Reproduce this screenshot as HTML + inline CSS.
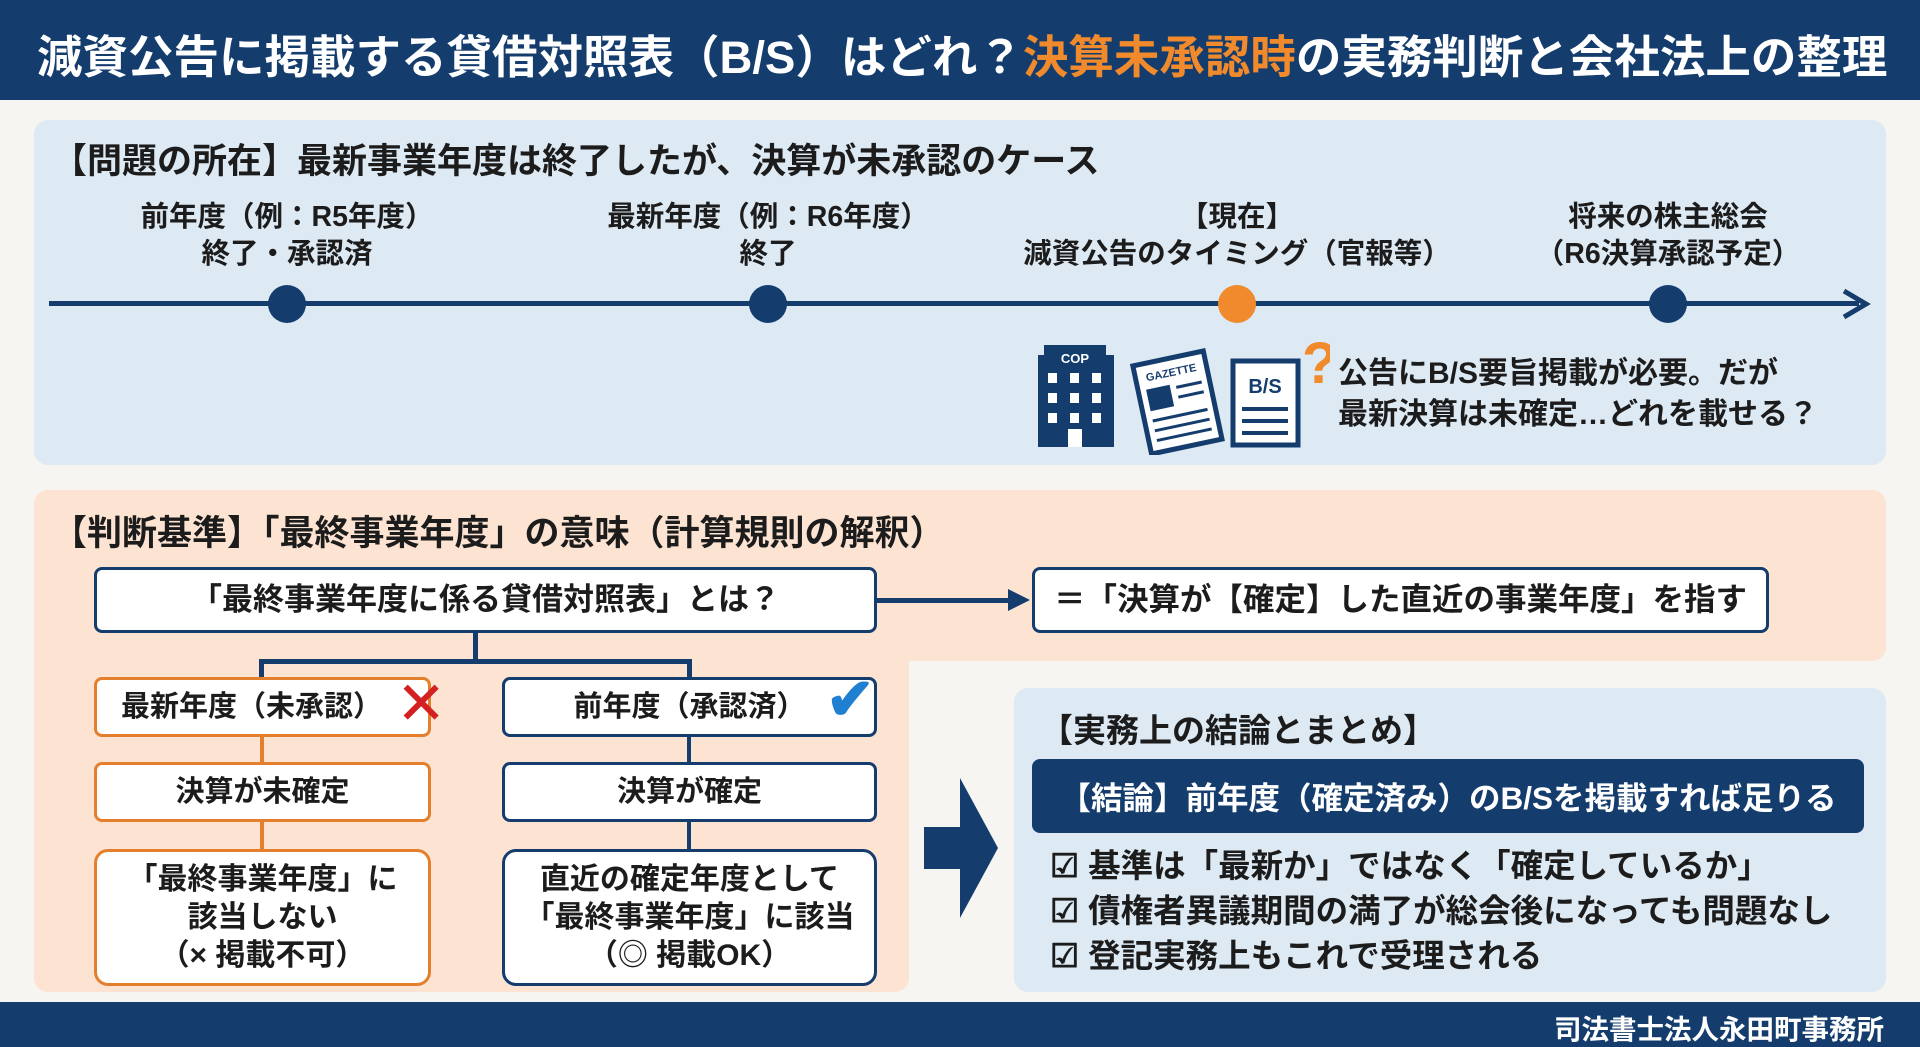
<!DOCTYPE html>
<html><head><meta charset="utf-8"><style>
*{margin:0;padding:0;box-sizing:border-box}
body{width:1920px;height:1047px;position:relative;overflow:hidden;background:#f6f5f1;font-family:"Liberation Sans","Noto Sans CJK JP",sans-serif;font-weight:700;color:#1c1c1c}
.a{position:absolute}
.c{display:flex;align-items:center;justify-content:center;text-align:center}
.box{position:absolute;background:#fff;border:3px solid #143d6e;border-radius:8px;display:flex;align-items:center;justify-content:center;text-align:center;font-size:29px;line-height:1.25}
.ob{border-color:#e47f2e}
.ln{position:absolute;background:#143d6e}
.ol{background:#e47f2e}
.tl{position:absolute;font-size:28.5px;text-align:center;line-height:37px;width:440px}
.dot{position:absolute;width:38px;height:38px;border-radius:50%;background:#143d6e;top:285px}
</style></head><body>
<div class="a" style="left:0;top:0;width:1920px;height:100px;background:#143d6e"></div>
<div class="a" style="left:37px;top:21px;font-size:45.5px;color:#fff;white-space:nowrap">減資公告に掲載する貸借対照表（B/S）はどれ？<span style="color:#f08a2c">決算未承認時</span>の実務判断と会社法上の整理</div>

<div class="a" style="left:34px;top:120px;width:1852px;height:345px;background:#dde9f3;border-radius:14px"></div>
<div class="a" style="left:52px;top:133px;font-size:35px">【問題の所在】最新事業年度は終了したが、決算が未承認のケース</div>
<div class="tl" style="left:67px;top:199px">前年度（例：R5年度）<br>終了・承認済</div>
<div class="tl" style="left:548px;top:199px">最新年度（例：R6年度）<br>終了</div>
<div class="tl" style="left:1017px;top:199px">【現在】<br>減資公告のタイミング（官報等）</div>
<div class="tl" style="left:1448px;top:199px">将来の株主総会<br>（R6決算承認予定）</div>
<div class="ln" style="left:49px;top:301px;width:1810px;height:5px"></div>
<svg class="a" style="left:1840px;top:288px" width="32" height="32"><path d="M4 3 L26 16 L4 29" fill="none" stroke="#143d6e" stroke-width="5"/></svg>
<div class="dot" style="left:268px"></div>
<div class="dot" style="left:749px"></div>
<div class="dot" style="left:1218px;background:#f08a2c"></div>
<div class="dot" style="left:1649px"></div>
<svg class="a" style="left:1030px;top:335px" width="300" height="120">
<rect x="8" y="20" width="76" height="92" fill="#143d6e"/><rect x="14" y="10" width="62" height="14" fill="#143d6e"/>
<text x="45" y="28" font-size="13" fill="#fff" text-anchor="middle" font-family="Liberation Sans">COP</text>
<g fill="#fff"><rect x="18" y="38" width="9" height="10"/><rect x="40" y="38" width="9" height="10"/><rect x="62" y="38" width="9" height="10"/><rect x="18" y="58" width="9" height="10"/><rect x="40" y="58" width="9" height="10"/><rect x="62" y="58" width="9" height="10"/><rect x="18" y="78" width="9" height="10"/><rect x="40" y="78" width="9" height="10"/><rect x="62" y="78" width="9" height="10"/><rect x="38" y="94" width="14" height="18"/></g>
<g transform="rotate(-12 150 70)"><rect x="112" y="22" width="72" height="90" fill="#fff" stroke="#143d6e" stroke-width="5"/><text x="148" y="40" font-size="11" fill="#143d6e" text-anchor="middle" font-family="Liberation Sans">GAZETTE</text><rect x="120" y="48" width="24" height="22" fill="#143d6e"/><g stroke="#143d6e" stroke-width="3"><line x1="150" y1="52" x2="176" y2="52"/><line x1="150" y1="62" x2="176" y2="62"/><line x1="120" y1="80" x2="176" y2="80"/><line x1="120" y1="90" x2="176" y2="90"/><line x1="120" y1="100" x2="176" y2="100"/></g></g>
<rect x="203" y="26" width="65" height="84" fill="#fff" stroke="#143d6e" stroke-width="5"/>
<text x="235" y="58" font-size="20" fill="#143d6e" text-anchor="middle" font-family="Liberation Sans" font-weight="bold">B/S</text>
<g stroke="#143d6e" stroke-width="4"><line x1="212" y1="74" x2="258" y2="74"/><line x1="212" y1="86" x2="258" y2="86"/><line x1="212" y1="98" x2="258" y2="98"/></g>
<text x="272" y="48" font-size="58" fill="#f08a2c" font-family="Liberation Sans" font-weight="bold">?</text>
</svg>
<div class="a" style="left:1338px;top:353px;font-size:30px;line-height:41px">公告にB/S要旨掲載が必要。だが<br>最新決算は未確定…どれを載せる？</div>

<div class="a" style="left:34px;top:490px;width:1852px;height:171px;background:#fce3d2;border-radius:14px"></div>
<div class="a" style="left:34px;top:600px;width:875px;height:392px;background:#fce3d2;border-radius:0 0 14px 14px"></div>
<div class="a" style="left:52px;top:505px;font-size:35px">【判断基準】「最終事業年度」の意味（計算規則の解釈）</div>
<div class="box" style="left:94px;top:567px;width:783px;height:66px;font-size:31px">「最終事業年度に係る貸借対照表」とは？</div>
<div class="ln" style="left:877px;top:598px;width:135px;height:5px"></div>
<svg class="a" style="left:1008px;top:589px" width="24" height="24"><path d="M0 0 L22 11 L0 22Z" fill="#143d6e"/></svg>
<div class="box" style="left:1032px;top:567px;width:737px;height:66px;font-size:31.5px">＝「決算が【確定】した直近の事業年度」を指す</div>
<div class="ln" style="left:473px;top:633px;width:5px;height:28px"></div>
<div class="ln" style="left:259px;top:659px;width:432px;height:5px"></div>
<div class="ln" style="left:259px;top:659px;width:5px;height:20px"></div>
<div class="ln" style="left:687px;top:659px;width:5px;height:20px"></div>
<div class="box ob" style="left:94px;top:677px;width:337px;height:60px;justify-content:flex-start;padding-left:24px">最新年度（未承認）</div>
<div class="a" style="left:396px;top:674px;font-size:60px;color:#d42020;line-height:60px;font-weight:400">✕</div>
<div class="box" style="left:502px;top:677px;width:375px;height:60px">前年度（承認済）</div>
<div class="a" style="left:826px;top:670px;font-size:58px;color:#1f7fd0;line-height:60px">✔</div>
<div class="ln ol" style="left:260px;top:737px;width:4px;height:25px"></div>
<div class="ln" style="left:687px;top:737px;width:4px;height:25px"></div>
<div class="box ob" style="left:94px;top:762px;width:337px;height:60px">決算が未確定</div>
<div class="box" style="left:502px;top:762px;width:375px;height:60px">決算が確定</div>
<div class="ln ol" style="left:260px;top:822px;width:4px;height:27px"></div>
<div class="ln" style="left:687px;top:822px;width:4px;height:27px"></div>
<div class="box ob" style="left:94px;top:849px;width:337px;height:137px;border-radius:14px;line-height:38px;font-size:30px">「最終事業年度」に<br>該当しない<br>（× 掲載不可）</div>
<div class="box" style="left:502px;top:849px;width:375px;height:137px;border-radius:14px;line-height:38px;font-size:30px">直近の確定年度として<br>「最終事業年度」に該当<br>（◎ 掲載OK）</div>
<svg class="a" style="left:920px;top:775px" width="82" height="146"><path d="M4 52 L40 52 L40 3 L78 73 L40 143 L40 94 L4 94Z" fill="#143d6e"/></svg>

<div class="a" style="left:1014px;top:688px;width:872px;height:304px;background:#dde9f3;border-radius:14px"></div>
<div class="a" style="left:1040px;top:704px;font-size:33px">【実務上の結論とまとめ】</div>
<div class="a c" style="left:1032px;top:759px;width:832px;height:74px;background:#143d6e;border-radius:8px;color:#fff;font-size:31.5px">【結論】前年度（確定済み）のB/Sを掲載すれば足りる</div>
<div class="a" style="left:1050px;top:844px;font-size:32.5px;line-height:45px">☑ 基準は「最新か」ではなく「確定しているか」<br>☑ 債権者異議期間の満了が総会後になっても問題なし<br>☑ 登記実務上もこれで受理される</div>

<div class="a" style="left:0;top:1002px;width:1920px;height:45px;background:#143d6e"></div>
<div class="a" style="right:36px;top:1007px;font-size:27.5px;color:#fff">司法書士法人永田町事務所</div>
</body></html>
